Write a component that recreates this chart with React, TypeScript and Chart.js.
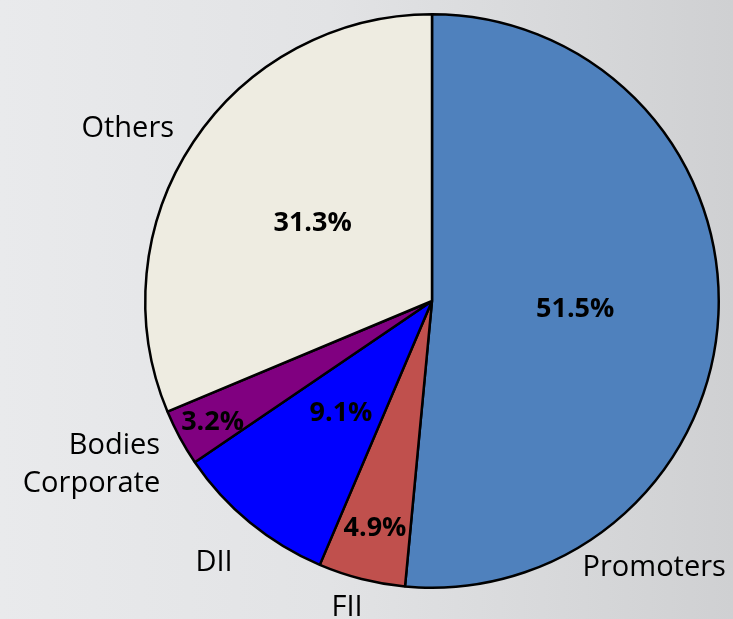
import React, { useEffect, useRef } from "react";
import { Chart, registerables } from "chart.js";

Chart.register(...registerables);

const categories = ["Promoters", "FII", "DII", "Bodies Corporate", "Others"];
const shareValues = [51.5, 4.9, 9.1, 3.2, 31.3];
const percentLabels = ["51.5%", "4.9%", "9.1%", "3.2%", "31.3%"];
const categoryLabelLines = [["Promoters"], ["FII"], ["DII"], ["Bodies", "Corporate"], ["Others"]];
const sliceColors = ["#4F81BD", "#C0504D", "#0000FF", "#800080", "#EEECE1"];

// label placement (style/position config)
const pctRadiusFactor = [0.5, 0.81, 0.5, 0.87, 0.5];
const outsideOffsets: { dx: number; dy: number; align: CanvasTextAlign }[] = [
  { dx: 0.775, dy: 0.923, align: "center" },
  { dx: -0.296, dy: 1.063, align: "center" },
  { dx: -0.76, dy: 0.904, align: "center" },
  { dx: -0.948, dy: 0.563, align: "right" },
  { dx: -1.061, dy: -0.61, align: "center" },
];

const labelPlugin = {
  id: "pieLabels",
  afterDatasetsDraw(chart: any) {
    const ctx = chart.ctx as CanvasRenderingContext2D;
    const meta = chart.getDatasetMeta(0);
    ctx.save();
    ctx.fillStyle = "#000";
    meta.data.forEach((arc: any, i: number) => {
      const { x, y, startAngle, endAngle, outerRadius } = arc.getProps(
        ["x", "y", "startAngle", "endAngle", "outerRadius"],
        true
      );
      const mid = (startAngle + endAngle) / 2;
      const ps = 27;
      ctx.font = `bold ${ps}px "Open Sans"`;
      ctx.textAlign = "center";
      ctx.textBaseline = "alphabetic";
      const r = outerRadius * pctRadiusFactor[i];
      ctx.fillText(percentLabels[i], x + Math.cos(mid) * r, y + Math.sin(mid) * r + 0.36 * ps);
      const cs = 29;
      const lh = 38;
      ctx.font = `${cs}px "Open Sans"`;
      const o = outsideOffsets[i];
      ctx.textAlign = o.align;
      const lines = categoryLabelLines[i];
      const cx = x + o.dx * outerRadius;
      const cy = y + o.dy * outerRadius;
      const top = cy - ((lines.length - 1) * lh) / 2;
      lines.forEach((ln, j) => {
        ctx.fillText(ln, cx, top + j * lh + 0.36 * cs);
      });
    });
    ctx.restore();
  },
};

export default function App() {
  const ref = useRef<HTMLCanvasElement>(null);
  useEffect(() => {
    if (!ref.current) return;
    const chart = new Chart(ref.current, {
      type: "pie",
      data: {
        labels: categories,
        datasets: [
          {
            data: shareValues,
            backgroundColor: sliceColors,
            borderColor: "#000",
            borderWidth: 2.5,
          },
        ],
      },
      options: {
        responsive: false,
        animation: false,
        layout: { padding: { left: 144, right: 13, top: 13, bottom: 30 } },
        plugins: { legend: { display: false }, tooltip: { enabled: false } },
      },
      plugins: [labelPlugin],
    });
    return () => chart.destroy();
  }, []);
  return (
    <div
      style={{
        position: "fixed",
        left: 0,
        top: 0,
        width: 733,
        height: 619,
        background: "linear-gradient(to right, #e9eaec 0%, #e2e3e5 45%, #cfd0d2 100%)",
      }}
    >
      <canvas ref={ref} width={733} height={619} style={{ width: 733, height: 619, display: "block" }} />
    </div>
  );
}
